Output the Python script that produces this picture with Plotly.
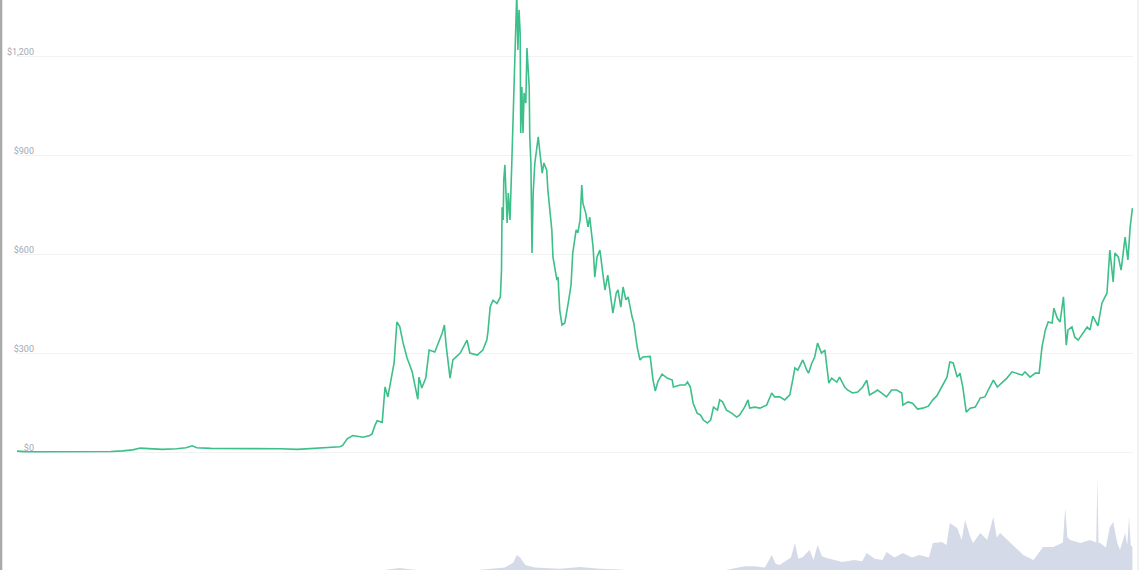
import plotly.graph_objects as go

# ---- price series (USD) ----
price_dates = [
    "2015-08-07","2015-08-20","2015-09-20","2015-10-20","2015-11-20","2015-12-20",
    "2016-01-20","2016-02-10","2016-02-28","2016-03-12","2016-03-28","2016-04-20",
    "2016-05-15","2016-06-01","2016-06-12","2016-06-20","2016-07-15","2016-08-15",
    "2016-09-15","2016-10-15","2016-11-15","2016-12-15","2017-01-05","2017-01-24",
    "2017-02-15","2017-02-28","2017-03-05","2017-03-13","2017-03-23","2017-04-10",
    "2017-04-22","2017-04-26","2017-05-01","2017-05-05","2017-05-14","2017-05-19",
    "2017-05-24","2017-05-30","2017-06-04","2017-06-09","2017-06-14","2017-06-20",
    "2017-06-27","2017-07-06","2017-07-11","2017-07-15","2017-07-16","2017-07-18",
    "2017-07-23","2017-07-30","2017-08-05","2017-08-15","2017-08-28","2017-09-01",
    "2017-09-04","2017-09-07","2017-09-11","2017-09-16","2017-09-29","2017-10-11",
    "2017-10-16","2017-10-29","2017-11-08","2017-11-15","2017-11-17","2017-11-21",
    "2017-11-26","2017-12-03","2017-12-09","2017-12-11","2017-12-12","2017-12-14",
    "2017-12-15","2017-12-17","2017-12-21","2017-12-23","2017-12-26","2017-12-29",
    "2018-01-01","2018-01-04","2018-01-07","2018-01-09","2018-01-11","2018-01-13",
    "2018-01-14","2018-01-16","2018-01-18","2018-01-20","2018-01-23","2018-01-25",
    "2018-01-29","2018-01-30","2018-02-01","2018-02-03","2018-02-05","2018-02-08",
    "2018-02-12","2018-02-14","2018-02-17","2018-02-21","2018-02-24","2018-03-01",
    "2018-03-03","2018-03-07","2018-03-10","2018-03-12","2018-03-16","2018-03-19",
    "2018-03-21","2018-03-24","2018-03-28","2018-04-02","2018-04-08","2018-04-13",
    "2018-04-16","2018-04-22","2018-04-25","2018-04-29","2018-05-02","2018-05-04",
    "2018-05-09","2018-05-13","2018-05-16","2018-05-22","2018-05-25","2018-05-29",
    "2018-06-03","2018-06-07","2018-06-12","2018-06-17","2018-06-23","2018-06-26",
    "2018-07-02","2018-07-05","2018-07-10","2018-07-14","2018-07-19","2018-07-23",
    "2018-07-30","2018-08-02","2018-08-08","2018-08-13","2018-08-18","2018-08-25",
    "2018-08-31","2018-09-05","2018-09-09","2018-09-14","2018-09-21","2018-09-30",
    "2018-10-09","2018-10-11","2018-10-23","2018-11-01","2018-11-05","2018-11-10",
    "2018-11-15","2018-11-22","2018-11-28","2018-12-03","2018-12-10","2018-12-16",
    "2018-12-21","2018-12-28","2019-01-01","2019-01-06","2019-01-13","2019-01-22",
    "2019-01-31","2019-02-05","2019-02-14","2019-02-20","2019-02-23","2019-03-04",
    "2019-03-13","2019-03-25","2019-04-03","2019-04-08","2019-04-17","2019-04-26",
    "2019-05-05","2019-05-10","2019-05-14","2019-05-19","2019-05-28","2019-06-04",
    "2019-06-07","2019-06-13","2019-06-18","2019-06-23","2019-06-30","2019-07-06",
    "2019-07-09","2019-07-13","2019-07-18","2019-07-27","2019-08-01","2019-08-10",
    "2019-08-15","2019-08-24","2019-09-02","2019-09-11","2019-09-18","2019-09-23",
    "2019-10-02","2019-10-07","2019-10-14","2019-10-23","2019-11-01","2019-11-10",
    "2019-11-19","2019-11-21","2019-11-30","2019-12-08","2019-12-17","2019-12-26",
    "2020-01-05","2020-01-13","2020-01-20","2020-01-26","2020-02-07","2020-02-12",
    "2020-02-18","2020-02-25","2020-03-01","2020-03-06","2020-03-12","2020-03-19",
    "2020-03-28","2020-04-06","2020-04-14","2020-04-20","2020-04-29","2020-05-06",
    "2020-05-14","2020-05-23","2020-06-01","2020-06-10","2020-06-19","2020-06-24",
    "2020-07-03","2020-07-12","2020-07-19","2020-07-24","2020-07-30","2020-08-04",
    "2020-08-11","2020-08-14","2020-08-20","2020-08-25","2020-08-31","2020-09-05",
    "2020-09-08","2020-09-15","2020-09-20","2020-09-26","2020-10-03","2020-10-12",
    "2020-10-17","2020-10-22","2020-10-31","2020-11-07","2020-11-16","2020-11-21",
    "2020-11-27","2020-11-30","2020-12-06","2020-12-11","2020-12-18","2020-12-23",
    "2020-12-27","2020-12-31",
]
price_values = [
    2.8, 1.3, 0.9, 0.5, 0.9, 0.9,
    1.5, 3.5, 6.5, 12, 11, 8,
    10, 13, 19, 13, 11, 11,
    12, 12, 10, 8, 10, 11,
    12.5, 16, 20, 40, 50, 45,
    50, 55, 80, 95, 90, 197,
    167, 227, 270, 394, 380, 330,
    285, 243, 194, 167, 160, 227,
    194, 224, 309, 303, 360, 385,
    324, 285, 224, 279, 300, 339,
    300, 294, 309, 339, 364, 440,
    460, 450, 470, 550, 742, 703,
    824, 870, 694, 785, 703, 864,
    1045, 1218, 1390, 1218, 1340, 1270,
    967, 1106, 967, 1088, 1057, 1224,
    1106, 955, 876, 603, 785, 876,
    936, 955, 906, 845, 876, 854,
    794, 724, 673, 591, 551, 521,
    530, 430, 385, 391, 451, 506,
    603, 673, 664, 703, 809, 754,
    724, 682, 712, 621, 530, 591,
    612, 561, 491, 536, 451, 421,
    482, 491, 439, 500, 461, 470,
    409, 391, 318, 279, 288, 290,
    290, 218, 185, 215, 236, 224,
    218, 197, 203, 203, 212, 197,
    148, 118, 112, 97, 88, 97,
    136, 127, 158, 152, 127, 118,
    106, 112, 136, 158, 133, 136,
    133, 142, 179, 167, 167, 158,
    173, 218, 255, 248, 279, 248,
    239, 270, 288, 330, 300, 309,
    270, 209, 224, 212, 227, 197,
    188, 179, 182, 197, 218, 173,
    182, 188, 179, 167, 188, 188,
    179, 142, 152, 148, 130, 133,
    139, 158, 170, 188, 227, 273,
    270, 227, 239, 197, 121, 133,
    136, 164, 167, 188, 218, 197,
    209, 224, 243, 239, 233, 243,
    227, 239, 239, 318, 370, 394,
    391, 436, 406, 394, 470, 324,
    370, 379, 348, 339, 355, 379,
    370, 412, 382, 451, 482, 612,
    515, 603, 591, 551, 651, 582,
    682, 739,
]

# ---- traded volume (billion USD) ----
volume_dates = [
    "2015-08-07","2016-03-15","2017-01-01","2017-06-14","2017-07-01","2017-09-11",
    "2017-12-17","2018-01-01","2018-01-07","2018-01-13","2018-01-22","2018-02-08",
    "2018-03-24","2018-04-29","2018-06-03","2018-07-08","2018-08-13","2018-09-18",
    "2018-11-28","2019-01-01","2019-02-14","2019-03-04","2019-03-22","2019-04-03",
    "2019-04-10","2019-04-17","2019-05-07","2019-05-14","2019-05-20","2019-05-28",
    "2019-06-09","2019-06-16","2019-06-23","2019-07-01","2019-07-09","2019-07-23",
    "2019-08-06","2019-08-27","2019-09-10","2019-09-18","2019-10-02","2019-10-16",
    "2019-10-23","2019-11-06","2019-11-21","2019-12-07","2019-12-20","2020-01-06",
    "2020-01-13","2020-01-29","2020-02-06","2020-02-12","2020-02-25","2020-03-04",
    "2020-03-10","2020-03-18","2020-03-24","2020-04-06","2020-04-18","2020-04-29",
    "2020-05-05","2020-05-11","2020-05-29","2020-06-21","2020-07-09","2020-07-26",
    "2020-08-13","2020-08-30","2020-09-03","2020-09-07","2020-09-12","2020-09-30",
    "2020-10-17","2020-10-28","2020-10-30","2020-11-01","2020-11-04","2020-11-14",
    "2020-11-21","2020-11-27","2020-12-04","2020-12-09","2020-12-18","2020-12-22",
    "2020-12-25","2020-12-28","2020-12-31",
]
volume_values = [
    0.01, 0.05, 0.05, 4.8, 4.3, 3.0,
    5.0, 7.0, 10.0, 9.0, 6.0, 5.0,
    4.5, 5.2, 4.5, 4.2, 3.5, 3.0,
    3.5, 3.5, 5.5, 5.5, 5.0, 10.0,
    6.5, 6.0, 9.0, 14.8, 8.5, 9.2,
    12.0, 8.0, 14.0, 9.5, 8.8, 8.0,
    7.2, 8.0, 7.5, 10.8, 8.5, 8.0,
    11.2, 9.0, 10.8, 9.0, 10.0, 9.0,
    14.8, 15.2, 14.0, 22.8, 20.8, 16.0,
    24.0, 18.0, 14.8, 18.8, 16.0, 25.2,
    17.0, 18.8, 14.8, 10.0, 8.0, 13.2,
    13.2, 15.0, 28.8, 17.0, 16.0, 14.8,
    16.0, 15.0, 40.8, 15.0, 14.8, 13.0,
    21.2, 23.2, 15.0, 12.0, 18.8, 14.0,
    25.2, 14.0, 13.2,
]

tick_values = [0, 300, 600, 900, 1200]
tick_labels = ["$0", "$300", "$600", "$900", "$1,200"]

fig = go.Figure()

fig.add_trace(go.Scatter(
    x=volume_dates, y=volume_values, xaxis="x", yaxis="y2",
    mode="lines", line=dict(width=0, color="#cdd3e5"),
    fill="tozeroy", fillcolor="rgba(203,209,228,0.8)",
    hoverinfo="skip", showlegend=False,
))

fig.add_trace(go.Scatter(
    x=price_dates, y=price_values, xaxis="x", yaxis="y",
    mode="lines", line=dict(width=1.6, color="#3dbf89"),
    showlegend=False,
))

fig.update_layout(
    width=1140, height=570,
    margin=dict(l=17, r=7, t=0, b=0),
    paper_bgcolor="white", plot_bgcolor="white",
    font=dict(family="Roboto, Lato, sans-serif"),
    xaxis=dict(
        type="date", range=["2015-08-07", "2021-01-01"],
        showgrid=False, showticklabels=False, zeroline=False, showline=False,
        ticks="",
    ),
    yaxis=dict(
        domain=[0.1754, 1.0], range=[-54.5, 1369.7],
        anchor="free", position=0.0161, side="left",
        tickvals=tick_values, ticktext=tick_labels,
        ticks="", ticklabelstandoff=1, ticklabelshift=-4,
        tickfont=dict(size=9, color="#a3a9b4"),
        showgrid=True, gridcolor="#f1f2f4", gridwidth=1,
        zeroline=False, showline=False,
    ),
    yaxis2=dict(
        domain=[0.0, 0.18], range=[4, 45], anchor="x",
        visible=False, showgrid=False, zeroline=False,
    ),
    shapes=[
        dict(type="line", xref="paper", yref="paper",
             x0=-0.0143, x1=-0.0143, y0=-0.02, y1=1.02,
             line=dict(color="#a9a9a9", width=2.5)),
        dict(type="line", xref="paper", yref="paper",
             x0=1.0045, x1=1.0045, y0=-0.02, y1=1.02,
             line=dict(color="#e6e6e6", width=1)),
    ],
)

fig.write_html(
    "out.html",
    config={"displayModeBar": False},
    post_script="document.body.style.margin='0';document.body.style.overflow='hidden';",
)
